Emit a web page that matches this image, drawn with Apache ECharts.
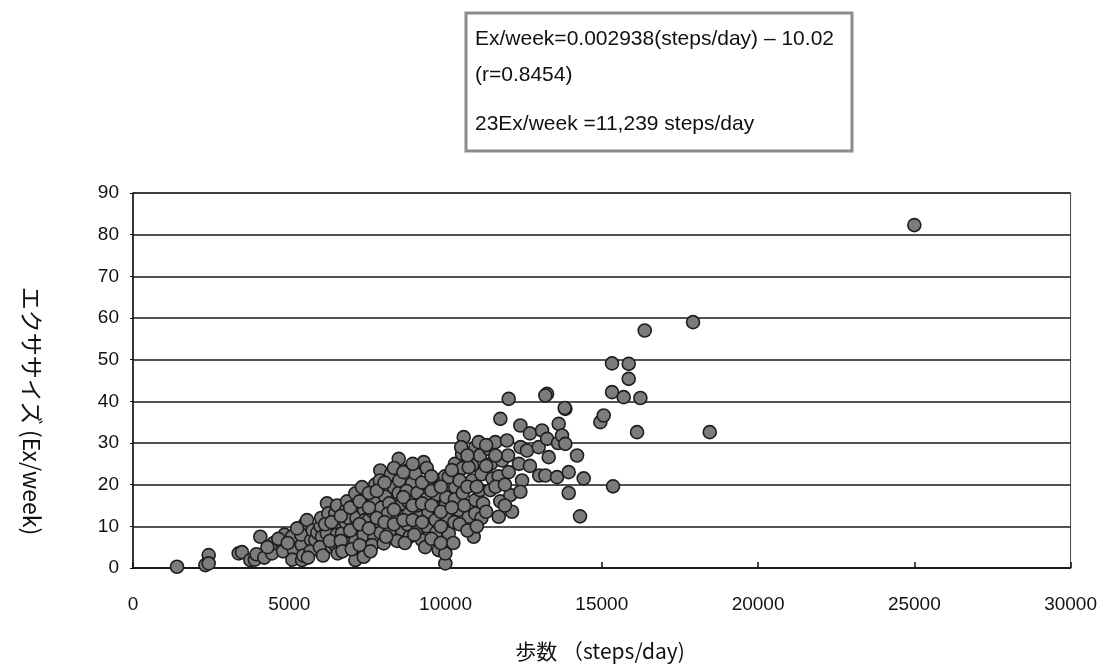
<!DOCTYPE html>
<html>
<head>
<meta charset="utf-8">
<script src="https://cdn.jsdelivr.net/npm/echarts@6/dist/echarts.min.js"></script>
<style>
  html, body { margin: 0; padding: 0; background: #fff; }
  #chart { width: 1100px; height: 665px; }
</style>
</head>
<body>
<div id="chart"></div>
<script>
// 歩数 (steps/day) と エクササイズ (Ex/week) の散布図

// 左下の小さい群
let lowCluster = [
    [1408, 0.3], [2314, 0.7], [2422, 3.1], [2422, 1.1], [3382, 3.5], [3488, 3.8],
    [3754, 1.9], [3900, 2.0], [3950, 3.3], [4074, 7.5], [4200, 2.5], [4448, 3.5],
    [4500, 6.0], [4768, 5.9], [4800, 4.0], [4850, 8.0], [5088, 7.5], [5150, 4.3],
    [5100, 2.0], [5408, 1.9], [5514, 10.7], [5400, 5.5], [5450, 3.0], [5380, 8.0],
    [5568, 11.5], [5700, 6.7], [5750, 9.0], [5680, 4.0], [5834, 6.7],
    [4300, 5.0], [4650, 7.0], [4950, 6.0], [5250, 9.5], [5600, 2.5], [5900, 8.5]
];

// 中央の密集した群
let mainCluster = [
    [6000, 10.0], [6050, 7.5], [5980, 5.0], [6020, 12.0], [6080, 3.0],
    [6208, 15.5], [6250, 13.1], [6200, 8.3], [6368, 5.1], [6474, 13.1],
    [6500, 10.5], [6520, 8.0], [6480, 5.5], [6550, 3.5], [6530, 15.0],
    [6688, 8.3], [6800, 11.0], [6820, 14.0], [6780, 6.0], [6850, 16.0], [6900, 12.0],
    [7114, 17.9], [7100, 15.0], [7150, 12.0], [7080, 9.5], [7120, 6.5], [7114, 1.9],
    [7382, 2.7], [7400, 14.0], [7420, 11.5], [7380, 8.0], [7450, 17.0], [7328, 19.4],
    [7542, 11.5], [7700, 16.0], [7680, 13.5], [7720, 7.5], [7750, 20.0], [7650, 5.5],
    [7914, 23.4], [7900, 21.0], [8074, 17.1], [7950, 14.5], [7880, 10.0], [7920, 8.5],
    [8182, 11.5], [8342, 19.4], [8200, 15.5], [8250, 22.5], [8022, 5.9], [8150, 13.0], [8220, 9.0],
    [8502, 26.2], [8500, 18.0], [8608, 15.5], [8480, 12.5], [8608, 9.1], [8520, 21.0], [8450, 6.5],
    [8928, 20.3], [8800, 16.0], [8820, 13.0], [8780, 10.5], [8850, 7.5], [8800, 23.5], [8750, 18.5],
    [9034, 22.7], [9302, 25.4], [9142, 12.3], [9100, 18.0], [9080, 15.0], [9248, 6.7], [9120, 9.5],
    [9400, 24.0], [9420, 20.0], [9380, 16.5], [9450, 13.5], [9400, 10.0], [9350, 5.0],
    [9782, 21.1], [9700, 17.5], [9720, 14.5], [9680, 11.5], [9782, 4.3], [9700, 8.5],
    [9994, 1.1], [9994, 3.5], [10102, 9.9], [10102, 19.4], [10000, 15.0], [10050, 12.0],
    [9980, 22.0], [10020, 17.0], [10314, 19.4], [10422, 13.9], [10102, 8.3], [10300, 16.5],
    [10102, 21.8], [10300, 25.0], [10280, 11.0],
    [10582, 31.4], [10528, 27.4], [10550, 24.0], [10742, 12.3], [10550, 18.0], [10500, 29.0], [10600, 15.0],
    [10954, 29.0], [10848, 24.6], [10954, 16.3], [10954, 13.1], [10901, 7.5], [10850, 21.0], [10742, 24.2],
    [11062, 30.2], [11100, 27.0], [11150, 22.5], [11100, 18.7], [11200, 15.5], [11150, 12.0],
    [11434, 18.7], [11450, 25.0], [11400, 28.5], [11500, 21.5],
    [11594, 30.2], [11808, 25.8], [11702, 12.3], [11754, 35.8], [11700, 22.0], [11750, 16.0],
    [11968, 30.6], [12021, 40.6], [12021, 23.0], [12074, 17.5], [12128, 13.5], [12000, 27.0]
];

// 密集部の隙間を埋める点
let denseFill = [
    [6150, 10.5], [6300, 6.5], [6350, 11.0], [6650, 12.5], [6650, 6.5], [6700, 4.0],
    [6950, 9.0], [6950, 14.5], [7000, 4.5], [7250, 10.5], [7250, 16.0], [7250, 5.5],
    [7550, 9.5], [7550, 14.5], [7550, 18.0], [7600, 4.0], [7800, 12.0], [7800, 18.5],
    [8050, 20.5], [8050, 11.0], [8100, 7.5], [8350, 14.0], [8350, 24.0], [8350, 10.5],
    [8650, 23.0], [8650, 17.0], [8650, 11.5], [8700, 6.0], [8950, 15.0], [8950, 11.5],
    [8950, 25.0], [9000, 8.0], [9250, 20.5], [9250, 15.5], [9250, 11.0], [9550, 22.0],
    [9550, 18.5], [9550, 15.0], [9550, 7.0], [9850, 19.5], [9850, 13.5], [9850, 10.0],
    [9850, 6.0], [10200, 14.5], [10200, 23.5], [10250, 6.0], [10450, 21.0], [10450, 10.5],
    [10700, 27.0], [10700, 19.5], [10700, 9.0], [11000, 10.0], [11000, 19.5], [11300, 24.5],
    [11300, 13.5], [11300, 29.5], [11600, 19.5], [11600, 27.0], [11900, 20.0], [11900, 15.0]
];

// 右上に広がる群
let upperCluster = [
    [12448, 21.0], [12394, 18.3], [12394, 34.2], [12400, 29.0], [12350, 25.0],
    [12700, 32.3], [12608, 28.2], [12700, 24.5],
    [12981, 29.0], [13088, 33.0], [13000, 22.2],
    [13248, 41.8], [13301, 26.6], [13250, 31.0], [13194, 22.2], [13194, 41.4],
    [13621, 34.6], [13568, 21.8], [13600, 30.0],
    [13834, 38.2], [13728, 31.8], [13834, 29.8], [13941, 23.0], [13941, 18.0], [13813, 38.4],
    [14208, 27.0], [14304, 12.4], [14421, 21.5]
];

// 外れ値
let outliers = [
    [14954, 35.0], [15061, 36.6], [15328, 49.1], [15861, 49.0], [15861, 45.4],
    [15328, 42.2], [15701, 41.0], [16235, 40.8], [15360, 19.6], [16128, 32.6],
    [16373, 57.0], [17920, 59.0], [18454, 32.6], [25000, 82.3]
];

let xTicks = { min: 0, max: 30000, step: 5000 };
let yTicks = { min: 0, max: 90, step: 10 };

let annotationLines = [
    'Ex/week=0.002938(steps/day) \u2013 10.02',
    '(r=0.8454)',
    '23Ex/week =11,239 steps/day'
];

let chart = echarts.init(document.getElementById('chart'));

let labelFont = {
    color: '#111',
    fontSize: 19,
    fontFamily: 'Liberation Sans, Arial, sans-serif'
};

chart.setOption({
    backgroundColor: '#fff',
    animation: false,
    grid: {
        left: 133,
        right: 28,
        top: 193,
        bottom: 97,
        show: true,
        borderColor: '#444',
        borderWidth: 1
    },
    xAxis: {
        type: 'value',
        min: xTicks.min,
        max: xTicks.max,
        interval: xTicks.step,
        axisLine: { show: true, onZero: false, lineStyle: { color: '#111', width: 1.5 } },
        axisTick: { show: true, inside: true, length: 6, lineStyle: { color: '#111', width: 1.5 } },
        splitLine: { show: false },
        axisLabel: Object.assign({ margin: 27, formatter: (v) => String(v) }, labelFont)
    },
    yAxis: {
        type: 'value',
        min: yTicks.min,
        max: yTicks.max,
        interval: yTicks.step,
        axisLine: { show: true, lineStyle: { color: '#111', width: 1.5 } },
        axisTick: { show: true, length: 3, lineStyle: { color: '#111' } },
        splitLine: { show: true, lineStyle: { color: '#1a1a1a', width: 1.5 } },
        axisLabel: Object.assign({ margin: 14 }, labelFont)
    },
    series: [{
        type: 'scatter',
        symbol: 'circle',
        symbolSize: 13,
        itemStyle: {
            color: '#7c7c7c',
            borderColor: '#1e1e1e',
            borderWidth: 1.6,
            opacity: 1
        },
        data: [].concat(lowCluster, mainCluster, denseFill, upperCluster, outliers)
    }],
    graphic: [
        {
            type: 'rect',
            shape: { x: 466, y: 13, width: 386, height: 138 },
            style: { fill: '#fff', stroke: '#8c8c8c', lineWidth: 3 }
        },
        {
            type: 'text',
            x: 475, y: 39,
            style: {
                text: annotationLines[0], fill: '#111', fontSize: 21,
                fontFamily: 'Liberation Sans, Arial, sans-serif', verticalAlign: 'middle'
            }
        },
        {
            type: 'text',
            x: 475, y: 75,
            style: {
                text: annotationLines[1], fill: '#111', fontSize: 21,
                fontFamily: 'Liberation Sans, Arial, sans-serif', verticalAlign: 'middle'
            }
        },
        {
            type: 'text',
            x: 475, y: 124,
            style: {
                text: annotationLines[2], fill: '#111', fontSize: 21,
                fontFamily: 'Liberation Sans, Arial, sans-serif', verticalAlign: 'middle'
            }
        },
        {
            // 縦軸のタイトル
            type: 'text',
            x: 32, y: 411,
            rotation: -Math.PI / 2,
            style: {
                text: 'エクササイズ (Ex/week)', fill: '#111', fontSize: 23,
                fontFamily: 'Noto Sans CJK JP, sans-serif', align: 'center', verticalAlign: 'middle'
            }
        },
        {
            // 横軸のタイトル
            type: 'text',
            x: 600, y: 651,
            style: {
                text: '歩数 （steps/day)', fill: '#111', fontSize: 21,
                fontFamily: 'Noto Sans CJK JP, sans-serif', align: 'center', verticalAlign: 'middle'
            }
        }
    ]
});
</script>
</body>
</html>
